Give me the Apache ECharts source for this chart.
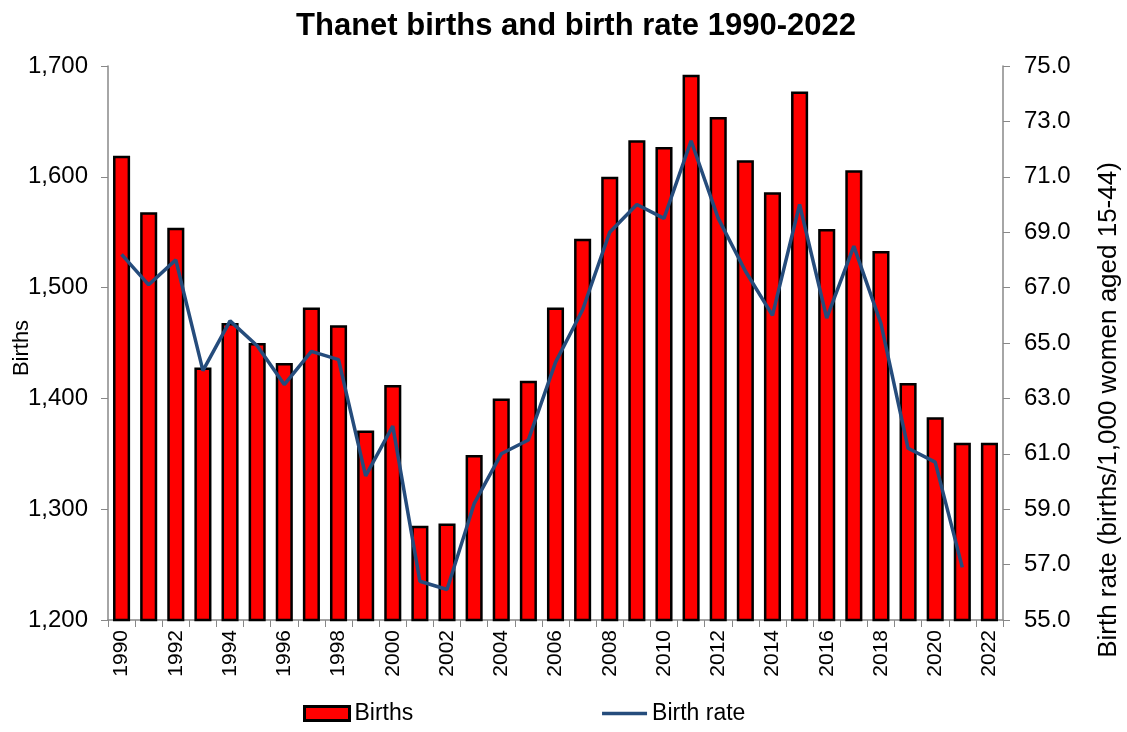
<!DOCTYPE html>
<html>
<head>
<meta charset="utf-8">
<script src="https://cdn.jsdelivr.net/npm/echarts@6/dist/echarts.min.js"></script>
<style>html,body{margin:0;padding:0;background:#fff}#c{width:1127px;height:732px}</style>
</head>
<body>
<div id="c"></div>
<script>
const years = ['1990','1991','1992','1993','1994','1995','1996','1997','1998','1999','2000','2001','2002','2003','2004','2005','2006','2007','2008','2009','2010','2011','2012','2013','2014','2015','2016','2017','2018','2019','2020','2021','2022'];
const births = [1619,1568,1554,1428,1468,1450,1432,1482,1466,1371,1412,1285,1287,1349,1400,1416,1482,1544,1600,1633,1627,1692,1654,1615,1586,1677,1553,1606,1533,1414,1383,1360,1360];
const birthRate = [68.2,67.1,68.0,64.0,65.8,64.9,63.5,64.7,64.4,60.2,62.0,56.4,56.1,59.2,61.0,61.5,64.3,66.2,69.0,70.0,69.5,72.3,69.5,67.6,66.0,70.0,65.9,68.5,65.7,61.2,60.7,56.9,null];

const font = 'Liberation Sans, Arial, sans-serif';
const chart = echarts.init(document.getElementById('c'));
chart.setOption({
  animation: false,
  title: {
    text: 'Thanet births and birth rate 1990-2022',
    left: 571, top: 6, textAlign: 'center',
    textStyle: {fontFamily: font, fontWeight: 'bold', fontSize: 31, color: '#000'}
  },
  legend: {
    bottom: 2, left: 298, itemGap: 187, itemWidth: 45, itemHeight: 14,
    textStyle: {fontFamily: font, fontSize: 23, color: '#000'},
    data: [
      {name: 'Births', icon: 'rect', itemStyle: {borderWidth: 3, borderColor: '#000'}},
      {name: 'Birth rate', itemStyle: {opacity: 0}, lineStyle: {width: 3.5}}
    ]
  },
  grid: {left: 108, right: 124, top: 66, bottom: 112, containLabel: false, outerBoundsMode: 'none'},
  xAxis: {
    type: 'category', data: years, boundaryGap: true,
    axisLine: {lineStyle: {color: '#888', width: 1.5}},
    axisTick: {show: true, interval: 0, alignWithLabel: false, length: 7, lineStyle: {color: '#888'}},
    axisLabel: {interval: 1, rotate: 90, fontFamily: font, fontSize: 21, color: '#000', margin: 10}
  },
  yAxis: [
    {
      type: 'value', min: 1200, max: 1700, interval: 100, name: 'Births',
      nameLocation: 'middle', nameGap: 75, nameRotate: 90, nameMoveOverlap: false,
      nameTextStyle: {fontFamily: font, fontSize: 22, color: '#000', padding: [0, 10, 0, 0]},
      axisLine: {show: true, lineStyle: {color: '#888', width: 1.5}},
      axisTick: {show: true, length: 7, lineStyle: {color: '#888'}},
      splitLine: {show: false},
      axisLabel: {fontFamily: font, fontSize: 24, color: '#000', margin: 20,
        formatter: v => v.toLocaleString('en-US')}
    },
    {
      type: 'value', min: 55, max: 75, interval: 2, position: 'right',
      name: 'Birth rate (births/1,000 women aged 15-44)',
      nameLocation: 'middle', nameGap: 93, nameRotate: 90, nameMoveOverlap: false,
      nameTextStyle: {fontFamily: font, fontSize: 26, color: '#000', padding: [0, 134, 0, 0]},
      axisLine: {show: true, lineStyle: {color: '#888', width: 1.5}},
      axisTick: {show: true, length: 7, lineStyle: {color: '#888'}},
      splitLine: {show: false},
      axisLabel: {fontFamily: font, fontSize: 24, color: '#000', margin: 21,
        formatter: v => v.toFixed(1)}
    }
  ],
  series: [
    {
      name: 'Births', type: 'bar', data: births, yAxisIndex: 0,
      barCategoryGap: '37%',
      itemStyle: {color: '#FF0000', borderColor: '#000', borderWidth: 2.5}
    },
    {
      name: 'Birth rate', type: 'line', data: birthRate, yAxisIndex: 1,
      showSymbol: false, symbol: 'none',
      lineStyle: {color: '#254C7C', width: 3.5},
      itemStyle: {color: '#254C7C'}
    }
  ]
});
</script>
</body>
</html>
